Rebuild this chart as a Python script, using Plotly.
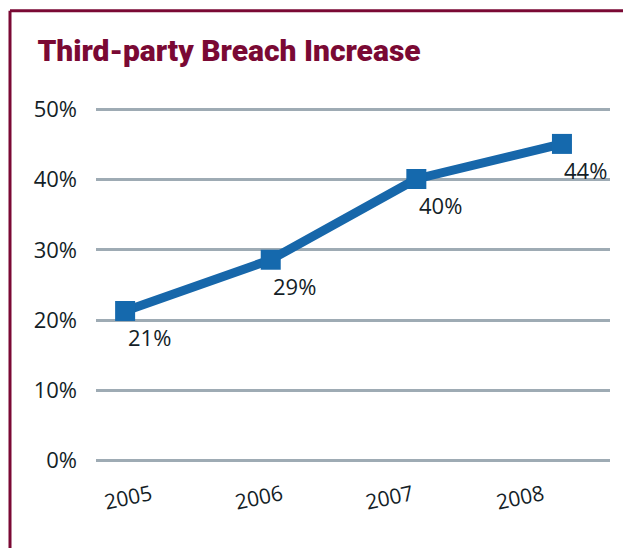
import plotly.graph_objects as go

years = ["2005", "2006", "2007", "2008"]
values = [21.3, 28.6, 40.1, 45.1]
labels = ["21%", "29%", "40%", "44%"]
y_ticks = [0, 10, 20, 30, 40, 50]
y_ticktext = ["0%", "10%", "20%", "30%", "40%", "50%"]

TXT = "#141e27"
RED = "#7a0934"
BLUE = "#1767aa"

xi = list(range(len(years)))

fig = go.Figure()
fig.add_trace(go.Scatter(
    x=xi, y=values,
    mode="lines+markers",
    line=dict(color=BLUE, width=9),
    marker=dict(symbol="square", size=20, color="#1569ad"),
    cliponaxis=False, showlegend=False,
))
# invisible trace carrying the year tick labels
fig.add_trace(go.Scatter(x=years, y=[None] * len(years), xaxis="x2", yaxis="y",
                         mode="markers", showlegend=False, hoverinfo="skip"))

annotations = [
    dict(x=x, y=v, xref="x", yref="y", text=t, showarrow=False,
         xshift=24, yshift=-26, font=dict(family="Open Sans", size=22, color=TXT))
    for x, v, t in zip(xi, values, labels)
]

fig.update_layout(
    width=623, height=548,
    margin=dict(l=96, r=13, t=105.5, b=83.5),
    paper_bgcolor="white", plot_bgcolor="white",
    title=dict(text="Third-party Breach Increase", x=0.06, xanchor="left",
               y=1 - 50 / 548, yanchor="middle",
               font=dict(family="Roboto", size=30, color=RED, weight=900)),
    xaxis=dict(range=[-0.2, 3.33], showticklabels=False, showgrid=False, zeroline=False,
               showline=False, ticks=""),
    xaxis2=dict(overlaying="x", anchor="y", side="bottom", type="category",
                range=[-0.421, 3.512], tickangle=-12, showgrid=False, zeroline=False,
                showline=False, ticks="", ticklabelstandoff=14,
                tickfont=dict(family="Open Sans", size=21, color=TXT)),
    yaxis=dict(range=[-0.5, 50.5], tickmode="array", tickvals=y_ticks, ticktext=y_ticktext,
               showgrid=True, gridcolor="#9eabb4", gridwidth=2.5, zeroline=False,
               showline=False, ticks="", ticklabelstandoff=18,
               tickfont=dict(family="Open Sans", size=22, color=TXT)),
    annotations=annotations,
    shapes=[
        dict(type="line", xref="paper", yref="paper", x0=-86 / 514, x1=1.1,
             y0=1 + 95.5 / 359, y1=1 + 95.5 / 359, line=dict(color=RED, width=3)),
        dict(type="line", xref="paper", yref="paper", x0=-86 / 514, x1=-86 / 514,
             y0=1 + 95.5 / 359, y1=-0.3, line=dict(color=RED, width=3)),
    ],
)

fig.write_html("out.html")
